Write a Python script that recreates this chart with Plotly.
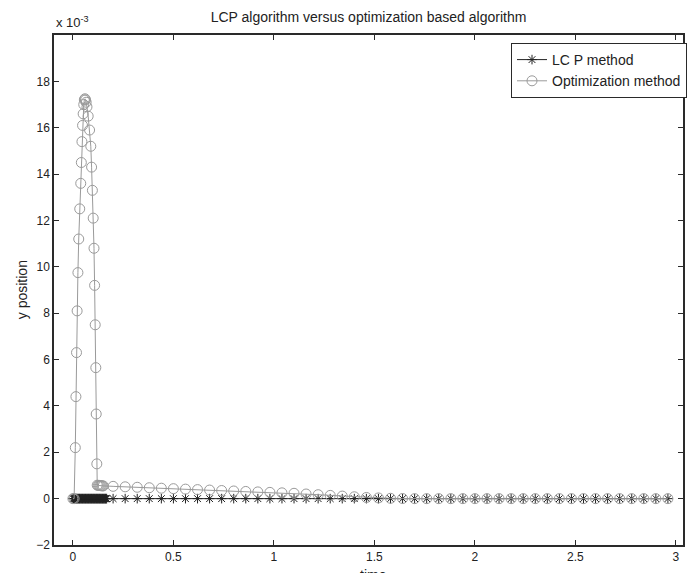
import plotly.graph_objects as go

# ---- data (y values in units of 1e-3) ----
opt_t = [0.000, 0.006, 0.012, 0.015, 0.018, 0.021, 0.025, 0.029, 0.034, 0.039,
         0.042, 0.045, 0.048, 0.051, 0.054, 0.057, 0.060, 0.063, 0.066, 0.070,
         0.076, 0.083, 0.089, 0.093, 0.097, 0.101, 0.105, 0.108, 0.111, 0.114,
         0.116, 0.119, 0.121, 0.126, 0.131, 0.136, 0.141, 0.146, 0.151,
         0.20, 0.26, 0.32, 0.38, 0.44, 0.50, 0.56, 0.62, 0.68, 0.74,
         0.80, 0.86, 0.92, 0.98, 1.04, 1.10, 1.16, 1.22, 1.28, 1.34,
         1.40, 1.46, 1.52, 1.58, 1.64, 1.70, 1.76, 1.82, 1.88, 1.94,
         2.00, 2.06, 2.12, 2.18, 2.24, 2.30, 2.36, 2.42, 2.48, 2.54,
         2.60, 2.66, 2.72, 2.78, 2.84, 2.90, 2.96]
opt_y = [0.0, 0.0, 2.2, 4.4, 6.3, 8.1, 9.75, 11.2, 12.5, 13.6,
         14.5, 15.4, 16.1, 16.6, 17.0, 17.2, 17.25, 17.2, 17.1, 16.9,
         16.5, 15.9, 15.2, 14.3, 13.3, 12.1, 10.8, 9.2, 7.5, 5.65,
         3.65, 1.5, 0.58, 0.57, 0.57, 0.56, 0.56, 0.55, 0.55,
         0.53, 0.51, 0.49, 0.47, 0.45, 0.43, 0.41, 0.39, 0.37, 0.35,
         0.33, 0.31, 0.29, 0.27, 0.25, 0.23, 0.20, 0.17, 0.14, 0.11,
         0.08, 0.05, 0.03, 0.015, 0.005, 0.0, 0.0, 0.0, 0.0, 0.0,
         0.0, 0.0, 0.0, 0.0, 0.0, 0.0, 0.0, 0.0, 0.0, 0.0,
         0.0, 0.0, 0.0, 0.0, 0.0, 0.0, 0.0]

lcp_t = [0.000, 0.003, 0.006, 0.009, 0.012, 0.015, 0.018, 0.021, 0.024, 0.027,
         0.030, 0.033, 0.036, 0.039, 0.042, 0.045, 0.048, 0.051, 0.054, 0.057,
         0.060, 0.063, 0.066, 0.069, 0.072, 0.075, 0.078, 0.081, 0.084, 0.087,
         0.090, 0.093, 0.096, 0.099, 0.102, 0.105, 0.108, 0.111, 0.114, 0.117,
         0.120, 0.123, 0.126, 0.129, 0.132, 0.135, 0.138, 0.141, 0.144, 0.147,
         0.150, 0.153, 0.156, 0.159, 0.162, 0.165, 0.168,
         0.20, 0.26, 0.32, 0.38, 0.44, 0.50, 0.56, 0.62, 0.68, 0.74,
         0.80, 0.86, 0.92, 0.98, 1.04, 1.10, 1.16, 1.22, 1.28, 1.34,
         1.40, 1.46, 1.52, 1.58, 1.64, 1.70, 1.76, 1.82, 1.88, 1.94,
         2.00, 2.06, 2.12, 2.18, 2.24, 2.30, 2.36, 2.42, 2.48, 2.54,
         2.60, 2.66, 2.72, 2.78, 2.84, 2.90, 2.96]
lcp_y = [0.0] * len(lcp_t)

x_ticks = [0, 0.5, 1, 1.5, 2, 2.5, 3]
x_tick_labels = ["0", "0.5", "1", "1.5", "2", "2.5", "3"]
y_ticks = [-2, 0, 2, 4, 6, 8, 10, 12, 14, 16, 18]
y_tick_labels = ["\u22122", "0", "2", "4", "6", "8", "10", "12", "14", "16", "18"]

FONT = "Liberation Sans, Arial, sans-serif"
AX = "#2a2a2a"
GRAY = "#9a9a9a"

fig = go.Figure()
fig.add_trace(go.Scatter(
    x=lcp_t, y=lcp_y, mode="lines+markers", name="LC P method",
    line=dict(color="#222222", width=1),
    marker=dict(symbol="asterisk-open", size=8, color="#222222",
                line=dict(color="#222222", width=1)),
))
fig.add_trace(go.Scatter(
    x=opt_t, y=opt_y, mode="lines+markers", name="Optimization method",
    line=dict(color=GRAY, width=1),
    marker=dict(symbol="circle-open", size=10, color=GRAY,
                line=dict(color=GRAY, width=1)),
))

fig.update_layout(
    width=687, height=573,
    margin=dict(l=54, r=0, t=35, b=28),
    paper_bgcolor="white", plot_bgcolor="white",
    font=dict(family=FONT, size=11, color="#222222"),
    title=dict(text="LCP algorithm versus optimization based algorithm",
               x=0.5, xref="paper", xanchor="center",
               y=1 - 17 / 573, yanchor="middle",
               font=dict(family=FONT, size=14, color="#222222")),
    showlegend=True,
    legend=dict(x=(514 - 54) / 633, y=(544.7 - 42.7) / 510,
                xanchor="left", yanchor="top",
                bgcolor="white", bordercolor=AX, borderwidth=1,
                font=dict(family=FONT, size=14, color="#222222"),
                tracegroupgap=0, itemwidth=30),
    xaxis=dict(range=[-0.094, 3.035], tickvals=x_ticks, ticktext=x_tick_labels,
               showline=True, linecolor=AX, linewidth=1.5, mirror="ticks",
               ticks="inside", ticklen=5, tickcolor=AX, tickwidth=1,
               showgrid=False, zeroline=False,
               tickfont=dict(family=FONT, size=12, color="#222222")),
    yaxis=dict(range=[-2, 20], tickvals=y_ticks, ticktext=y_tick_labels,
               showline=True, linecolor=AX, linewidth=1.5, mirror="ticks",
               ticks="inside", ticklen=5, tickcolor=AX, tickwidth=1,
               showgrid=False, zeroline=False,
               tickfont=dict(family=FONT, size=12, color="#222222")),
    annotations=[
        dict(text="x 10<sup>-3</sup>", xref="paper", yref="paper",
             x=0.0, y=(544.7 - 22) / 510, xanchor="left", yanchor="middle",
             showarrow=False, font=dict(family=FONT, size=13, color="#222222")),
        dict(text="y position", xref="paper", yref="paper",
             x=-(54 - 22) / 633, y=0.5, xanchor="center", yanchor="middle",
             textangle=-90, showarrow=False,
             font=dict(family=FONT, size=14, color="#222222")),
        dict(text="time", xref="paper", yref="paper",
             x=(376 - 54) / 633, y=-(575 - 544.7) / 510,
             xanchor="center", yanchor="middle",
             showarrow=False, font=dict(family=FONT, size=14, color="#222222")),
    ],
)

fig.write_html("out.html")
